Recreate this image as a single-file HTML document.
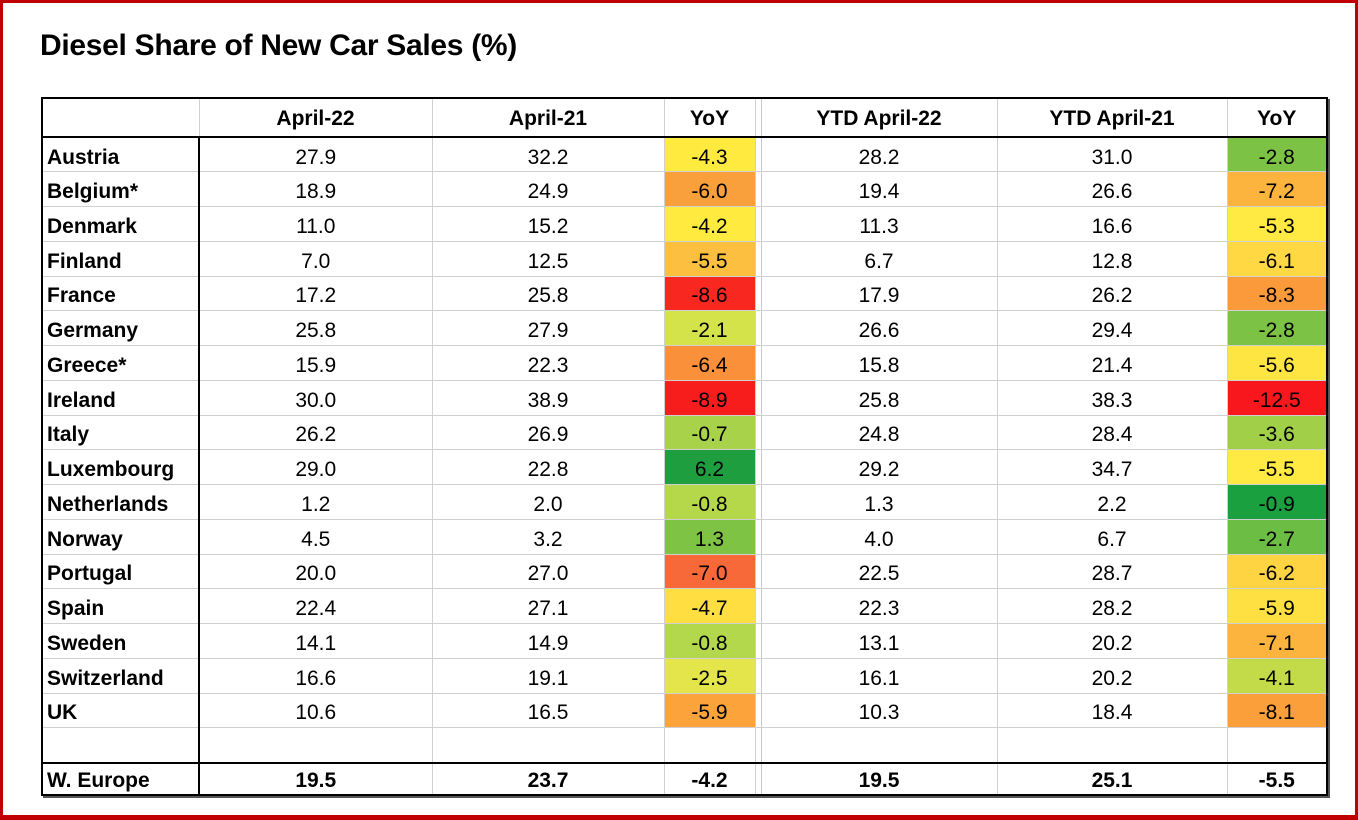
<!DOCTYPE html>
<html><head><meta charset="utf-8"><style>
html,body{margin:0;padding:0;background:#fff;}
body{width:1358px;height:820px;position:relative;overflow:hidden;font-family:"Liberation Sans",Arial,sans-serif;}
.frame{position:absolute;left:0;top:0;width:1352px;height:812px;border:3px solid #c00000;border-bottom-width:5px;}
.title{position:absolute;left:40px;top:29px;font-size:30px;font-weight:bold;color:#000;letter-spacing:-0.3px;}
table{position:absolute;left:41px;top:97px;border-collapse:collapse;table-layout:fixed;font-size:21px;color:#000;box-shadow:2px 2px 0 #555;border:2px solid #000;}
tr{height:34.75px;}
td{border:1px solid #d0d0d0;text-align:center;padding:6px 0 0 0;line-height:20px;white-space:nowrap;overflow:hidden;vertical-align:middle;}
tr.h{height:39px;}
tr.h td{font-weight:bold;border-bottom:2px solid #000;padding-top:2px;}
td.c{text-align:left;padding-left:4px;font-weight:bold;border-right:2px solid #000;}
td.g{border-left:1px solid #c8c8c8;border-right:1px solid #c8c8c8;}
tr.we{height:32px;}
tr.we td{font-weight:bold;border-top:2px solid #000;padding-top:4px;}
</style></head><body>
<div class="frame"></div>
<div class="title">Diesel Share of New Car Sales (%)</div>
<table>
<colgroup><col style="width:157px"><col style="width:233px"><col style="width:232px"><col style="width:91px"><col style="width:6px"><col style="width:236px"><col style="width:230px"><col style="width:100px"></colgroup>
<tr class="h"><td style="border-right:1px solid #d0d0d0"></td><td>April-22</td><td>April-21</td><td>YoY</td><td class="g"></td><td>YTD April-22</td><td>YTD April-21</td><td>YoY</td></tr>
<tr><td class="c">Austria</td><td>27.9</td><td>32.2</td><td style="background:#ffeb3f">-4.3</td><td class="g"></td><td>28.2</td><td>31.0</td><td style="background:#7cc244">-2.8</td></tr>
<tr><td class="c">Belgium*</td><td>18.9</td><td>24.9</td><td style="background:#f9a03c">-6.0</td><td class="g"></td><td>19.4</td><td>26.6</td><td style="background:#fdb43f">-7.2</td></tr>
<tr><td class="c">Denmark</td><td>11.0</td><td>15.2</td><td style="background:#ffea40">-4.2</td><td class="g"></td><td>11.3</td><td>16.6</td><td style="background:#ffe942">-5.3</td></tr>
<tr><td class="c">Finland</td><td>7.0</td><td>12.5</td><td style="background:#fdbf3f">-5.5</td><td class="g"></td><td>6.7</td><td>12.8</td><td style="background:#ffd843">-6.1</td></tr>
<tr><td class="c">France</td><td>17.2</td><td>25.8</td><td style="background:#f8271f">-8.6</td><td class="g"></td><td>17.9</td><td>26.2</td><td style="background:#fb9a3a">-8.3</td></tr>
<tr><td class="c">Germany</td><td>25.8</td><td>27.9</td><td style="background:#d4e34a">-2.1</td><td class="g"></td><td>26.6</td><td>29.4</td><td style="background:#7cc244">-2.8</td></tr>
<tr><td class="c">Greece*</td><td>15.9</td><td>22.3</td><td style="background:#fa913a">-6.4</td><td class="g"></td><td>15.8</td><td>21.4</td><td style="background:#ffe542">-5.6</td></tr>
<tr><td class="c">Ireland</td><td>30.0</td><td>38.9</td><td style="background:#f81d1d">-8.9</td><td class="g"></td><td>25.8</td><td>38.3</td><td style="background:#f8171c">-12.5</td></tr>
<tr><td class="c">Italy</td><td>26.2</td><td>26.9</td><td style="background:#a7d24a">-0.7</td><td class="g"></td><td>24.8</td><td>28.4</td><td style="background:#a2cf48">-3.6</td></tr>
<tr><td class="c">Luxembourg</td><td>29.0</td><td>22.8</td><td style="background:#1e9e3e">6.2</td><td class="g"></td><td>29.2</td><td>34.7</td><td style="background:#ffe942">-5.5</td></tr>
<tr><td class="c">Netherlands</td><td>1.2</td><td>2.0</td><td style="background:#b5d84b">-0.8</td><td class="g"></td><td>1.3</td><td>2.2</td><td style="background:#1aa03f">-0.9</td></tr>
<tr><td class="c">Norway</td><td>4.5</td><td>3.2</td><td style="background:#7ec344">1.3</td><td class="g"></td><td>4.0</td><td>6.7</td><td style="background:#6cbd44">-2.7</td></tr>
<tr><td class="c">Portugal</td><td>20.0</td><td>27.0</td><td style="background:#f8693a">-7.0</td><td class="g"></td><td>22.5</td><td>28.7</td><td style="background:#ffd443">-6.2</td></tr>
<tr><td class="c">Spain</td><td>22.4</td><td>27.1</td><td style="background:#ffde42">-4.7</td><td class="g"></td><td>22.3</td><td>28.2</td><td style="background:#ffe042">-5.9</td></tr>
<tr><td class="c">Sweden</td><td>14.1</td><td>14.9</td><td style="background:#b3d84b">-0.8</td><td class="g"></td><td>13.1</td><td>20.2</td><td style="background:#fdb43f">-7.1</td></tr>
<tr><td class="c">Switzerland</td><td>16.6</td><td>19.1</td><td style="background:#e3e54a">-2.5</td><td class="g"></td><td>16.1</td><td>20.2</td><td style="background:#c3da49">-4.1</td></tr>
<tr><td class="c">UK</td><td>10.6</td><td>16.5</td><td style="background:#fda33c">-5.9</td><td class="g"></td><td>10.3</td><td>18.4</td><td style="background:#fb9f3a">-8.1</td></tr>
<tr><td class="c"></td><td></td><td></td><td></td><td class="g"></td><td></td><td></td><td></td></tr>
<tr class="we"><td class="c">W. Europe</td><td>19.5</td><td>23.7</td><td>-4.2</td><td class="g"></td><td>19.5</td><td>25.1</td><td>-5.5</td></tr>
</table>
</body></html>
